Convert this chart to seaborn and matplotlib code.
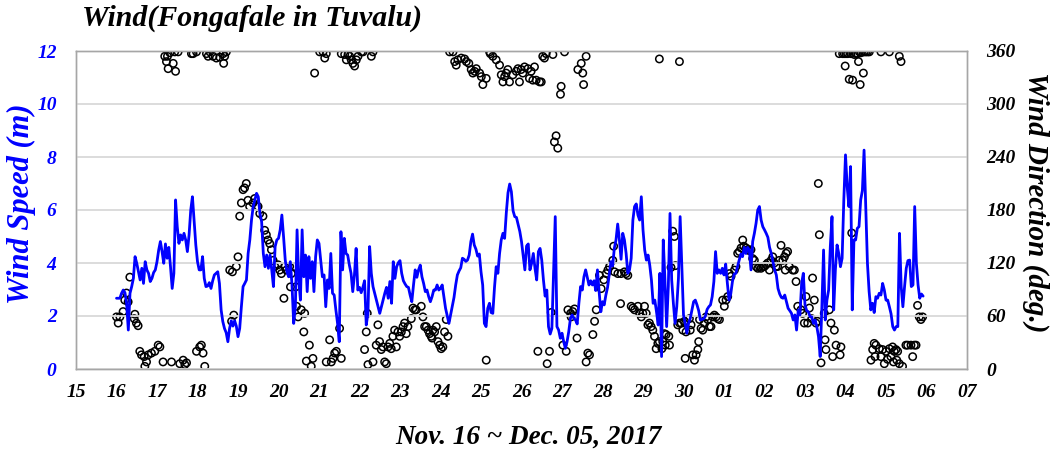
import numpy as np
import matplotlib
matplotlib.use("Agg")
import matplotlib.pyplot as plt
import seaborn as sns

# Hourly wind speed (m/s) from Nov 16 00:00
wind_speed = [
    2.67, 2.67, 2.67, 2.86, 2.98, 2.88, 2.48, 1.47, 2.86, 3.11,
    3.42, 4.24, 3.99, 3.67, 3.36, 3.80, 3.23, 4.05, 3.74, 3.61,
    3.30, 3.42, 3.64, 3.74, 4.05, 4.49, 4.81, 4.43, 3.99, 4.72,
    4.18, 4.59, 3.86, 3.04, 3.61, 6.38, 5.37, 4.74, 5.06, 4.87,
    5.12, 4.87, 4.43, 5.06, 6.00, 6.50, 5.56, 4.68, 4.05, 3.74,
    3.74, 4.24, 3.42, 3.11, 3.13, 3.26, 3.04, 3.33, 3.55,
    3.61, 3.67, 3.23, 2.23, 1.79, 1.53, 1.37, 1.03, 1.53, 1.82,
    1.62, 1.82, 1.62, 1.22, 1.53, 2.35, 3.11, 3.23, 3.36, 4.36,
    4.87, 5.62, 6.13, 6.38, 6.63, 6.50, 5.87, 5.56, 4.36, 3.86,
    4.30, 3.80, 4.30, 3.74, 3.11, 4.62, 4.87, 4.93, 5.25, 5.81,
    4.99, 4.11, 3.67, 3.48, 4.05, 3.17, 1.72, 2.35, 5.25, 3.36,
    2.60, 5.25, 3.48, 4.30, 2.92, 4.24, 3.42, 4.05, 2.92, 4.24, 4.87, 4.74,
    4.11, 3.48, 3.55, 2.35, 3.36, 3.04, 4.36, 2.86, 2.79, 2.23,
    1.72, 1.03, 5.18, 3.74, 4.93, 4.36, 4.30, 3.92, 3.61, 2.92,
    3.55, 4.55, 2.98, 3.08, 2.88, 3.08, 3.33, 1.66, 2.10, 4.62,
    3.61, 3.11, 2.86, 2.60, 2.35, 2.10, 2.35, 2.60, 2.86, 3.08,
    2.67, 3.30, 2.48, 4.05, 3.42, 3.86, 4.01, 4.09, 3.61, 3.33,
    3.21, 3.11, 3.08, 2.79, 2.54, 3.17, 3.74, 3.46, 3.74, 3.92, 3.48, 3.23,
    2.92, 2.98, 2.73, 2.54, 2.73, 2.98, 2.98, 3.17, 2.98, 3.04,
    3.17, 2.73, 2.29, 2.00, 1.72, 2.04, 2.35, 2.70, 3.17, 3.55,
    3.70, 3.82, 4.18, 4.14, 4.06, 4.11, 4.30, 4.81, 5.09, 4.68,
    4.52, 4.26, 4.34, 3.67, 3.17, 1.72, 1.60, 2.29, 2.48, 2.13,
    2.10, 3.08, 3.86, 3.61, 4.36, 4.87, 5.12, 4.93, 5.90, 6.65,
    6.98, 6.69, 5.97, 5.75, 5.72, 5.46, 5.19, 4.81, 4.26, 3.74, 4.64, 4.72,
    3.74, 3.99, 4.36, 3.80, 3.36, 4.43, 4.55, 4.11, 3.36, 2.75,
    2.98, 1.60, 1.32, 1.53, 3.61, 5.75, 1.60, 1.47, 1.16, 1.35,
    1.03, 0.78, 1.03, 1.41, 1.91, 2.04, 1.91, 1.85, 1.70, 2.48,
    3.11, 2.98, 3.48, 3.74, 3.46, 3.17, 3.33, 3.17, 3.33, 2.96,
    3.74, 2.92, 2.16, 2.54, 2.42, 2.79, 3.08, 3.55, 4.05, 3.89,
    4.55, 4.87, 5.47, 4.89, 4.14, 5.12, 4.87, 4.36, 3.61, 3.74, 4.18, 5.62,
    6.13, 6.23, 5.81, 5.62, 6.50, 5.25, 4.49, 4.11, 4.30, 3.92,
    3.36, 2.48, 2.60, 2.16, 1.66, 3.61, 0.47, 4.87, 3.36, 1.60,
    3.11, 5.87, 3.36, 2.48, 1.72, 2.35, 3.42, 5.75, 3.86, 2.04,
    1.72, 1.35, 1.72, 1.91, 2.23, 2.54, 2.60, 2.42, 2.20, 1.85,
    1.87, 1.90, 2.00, 2.25, 2.35, 2.42, 2.73, 3.30, 4.43, 3.61,
    3.74, 3.61, 3.80, 3.55, 3.96, 3.23, 2.60, 2.83, 3.30, 3.58, 3.61, 3.86,
    4.11, 4.34, 4.24, 4.59, 4.36, 4.59, 4.49, 3.74, 4.81, 5.12,
    5.50, 6.00, 6.13, 5.62, 5.37, 5.25, 5.12, 4.97, 4.59, 4.36,
    4.05, 3.74, 3.55, 3.04, 2.83, 2.70, 2.67, 2.79, 2.54, 2.29,
    2.20, 2.10, 1.85, 2.04, 1.47, 2.23, 2.04, 3.23, 3.61, 2.42,
    2.20, 2.16, 1.97, 1.97, 1.72, 1.85, 1.60, 1.22, 0.47, 2.35,
    4.49, 1.85, 2.60, 2.98, 4.62, 5.75, 2.23, 3.74, 4.68, 4.36, 3.86, 4.18,
    6.38, 8.08, 6.88, 6.13, 7.64, 2.23, 4.87, 4.87, 5.31, 5.37,
    6.38, 6.73, 8.26, 6.13, 3.99, 2.92, 2.23, 2.48, 2.13, 2.73,
    2.67, 2.86, 2.79, 3.23, 2.98, 2.60, 2.60, 2.35, 2.08, 1.60,
    1.47, 1.60, 1.60, 5.12, 3.11, 2.35, 3.11, 3.80, 4.09, 4.11,
    3.11, 3.17, 6.13, 3.99, 3.17, 2.67, 2.83, 2.75,
]

# Wind direction observations: hours after Nov 16 00:00 and direction (deg.)
dir_obs = [
    (28.6, 354), (31.6, 358), (34.5, 359), (36.5, 359), (29.6, 348), (30.6, 340),
    (33.6, 346), (35.0, 337), (30.2, 354), (44.4, 357), (45.4, 357), (47.4, 359),
    (53.3, 357), (54.3, 354),
    (7.9, 104), (5.9, 86), (4.9, 78), (6.9, 76), (3.9, 65), (2.0, 59), (0.0, 59),
    (1.0, 52), (10.9, 62), (10.5, 57), (11.8, 52), (12.8, 49),
    (13.8, 20), (14.8, 16), (16.4, 14), (17.8, 8), (18.8, 16), (20.7, 18), (22.7, 20),
    (24.7, 27), (25.7, 25), (16.8, 3), (27.6, 8), (32.6, 8), (37.5, 6), (39.5, 10),
    (40.5, 5), (41.5, 7), (47.4, 20), (49.3, 25), (50.3, 27), (51.3, 18), (52.3, 3),
    (55.3, 359), (57.2, 354), (59.2, 352), (61.2, 353), (63.2, 357), (64.1, 354),
    (65.1, 359), (63.5, 346),
    (75.0, 203), (75.9, 205), (76.9, 210), (74.0, 188), (73.0, 173), (77.9, 191),
    (78.9, 184), (80.9, 188), (81.9, 193), (82.9, 184), (83.9, 184), (84.9, 176),
    (86.8, 173), (87.8, 157), (88.8, 152), (89.8, 146), (90.8, 142), (91.8, 135),
    (92.8, 123), (93.8, 116), (95.7, 118), (96.7, 112), (97.7, 108), (99.7, 116),
    (100.7, 112), (102.6, 116), (103.6, 108), (105.6, 116), (103.1, 93), (106.2, 93),
    (99.2, 80), (72.0, 127), (71.0, 116), (67.1, 112), (68.7, 110), (69.5, 61),
    (68.2, 54), (106.7, 71), (107.6, 59), (109.5, 67), (111.5, 63), (111.0, 42),
    (114.3, 27), (112.5, 9), (116.4, 12), (115.4, 3),
    (120.4, 359), (122.4, 359), (123.4, 352), (124.3, 357), (133.2, 357), (135.2, 356),
    (136.2, 350), (137.2, 356), (138.2, 354), (139.1, 350), (140.1, 346), (141.1, 343),
    (142.1, 350), (143.1, 354), (145.1, 359), (146.1, 359), (151.0, 354), (152.0, 359),
    (117.4, 335),
    (126.3, 33), (129.3, 18), (130.3, 20), (128.3, 12), (127.3, 8), (124.3, 8),
    (133.2, 12), (132.2, 46), (148.0, 42), (148.6, 63), (147.0, 22), (149.0, 5),
    (152.0, 8), (154.9, 50), (153.9, 27), (155.9, 31), (156.9, 22), (157.9, 25),
    (158.9, 8), (159.9, 6), (160.9, 25), (161.9, 29), (162.8, 23), (163.8, 37),
    (164.8, 44), (165.8, 25), (166.8, 42), (167.8, 37), (168.8, 42), (169.8, 48),
    (170.7, 52), (171.7, 40), (172.7, 48), (174.7, 57), (175.7, 69), (176.7, 67),
    (177.6, 67),
    (197.4, 359), (199.4, 359), (200.4, 348), (201.3, 344), (202.3, 350), (204.3, 352),
    (206.3, 351), (207.3, 348), (208.8, 346), (210.2, 339), (211.2, 335), (212.2, 337),
    (213.2, 340), (215.2, 335), (216.2, 331), (217.1, 322), (219.1, 329), (221.1, 359),
    (221.5, 357), (223.0, 354), (225.0, 350), (227.0, 344), (228.0, 333), (229.0, 325),
    (230.0, 331), (230.9, 335), (231.9, 339), (232.9, 325), (234.9, 333), (236.9, 337),
    (237.9, 340), (238.8, 325), (239.8, 339), (240.8, 335), (241.8, 342),
    (180.6, 71), (181.6, 59), (182.6, 48), (183.6, 48), (184.6, 44), (185.5, 40),
    (186.5, 37), (187.5, 44), (188.5, 42), (189.5, 48), (187.0, 35), (190.5, 31),
    (191.5, 27), (192.4, 23), (193.4, 25), (194.4, 42), (195.4, 56), (196.4, 37),
    (219.1, 10),
    (243.8, 340), (245.7, 337), (247.7, 342), (244.7, 329), (246.7, 327), (248.7, 327),
    (250.7, 325), (251.7, 325), (252.6, 354), (253.6, 352), (254.6, 357), (258.6, 356),
    (265.5, 359), (273.4, 339), (275.4, 346), (276.3, 335), (278.3, 354), (276.8, 322),
    (263.5, 320), (263.1, 311),
    (260.5, 264), (259.5, 257), (261.5, 250),
    (257.6, 64), (267.5, 67), (269.1, 63), (270.4, 65), (271.4, 68), (269.4, 59),
    (272.9, 35), (283.3, 54), (282.3, 39), (284.3, 67), (287.2, 91), (288.8, 101),
    (286.2, 106), (290.2, 108), (291.2, 112), (292.2, 116), (294.1, 123), (294.6, 139),
    (295.1, 110), (297.1, 108), (299.0, 108), (301.0, 110), (302.0, 108), (303.0, 106),
    (298.7, 74), (249.7, 20), (256.6, 20), (255.2, 6), (264.5, 27), (266.5, 20),
    (279.3, 18), (280.3, 16), (278.3, 8),
    (321.7, 351), (333.6, 348),
    (329.6, 156), (330.6, 150), (328.6, 115), (331.2, 117), (363.2, 108), (364.2, 105),
    (305.0, 71), (306.0, 69), (307.0, 67), (309.0, 71), (310.0, 63), (311.0, 59),
    (311.9, 63), (312.9, 71), (313.9, 63), (314.9, 50), (315.8, 52), (316.8, 48),
    (317.8, 44), (318.8, 37), (319.8, 23), (320.8, 29), (321.7, 31), (323.7, 31),
    (324.7, 40), (325.7, 39), (327.3, 37), (325.2, 27), (327.7, 27), (323.2, 23),
    (332.6, 50), (333.6, 52), (334.6, 52), (335.6, 44), (336.6, 54), (337.5, 42),
    (339.5, 57), (340.5, 50), (340.0, 44), (345.5, 56), (346.4, 46), (347.4, 44),
    (348.4, 52), (349.4, 59), (350.4, 56), (351.4, 48), (352.3, 48), (353.3, 59),
    (354.3, 61), (355.3, 59), (356.3, 57), (357.3, 56), (359.2, 78), (360.2, 71),
    (361.2, 78), (362.2, 82), (337.0, 12), (341.5, 16), (342.5, 10), (343.5, 16),
    (344.5, 22), (345.0, 31),
    (366.2, 112), (367.1, 116), (368.1, 131), (369.1, 133), (370.1, 137), (371.1, 146),
    (371.7, 139), (373.1, 137), (374.0, 135), (375.0, 134), (376.0, 135), (377.0, 125),
    (378.0, 123), (379.0, 116), (380.0, 114), (381.0, 116), (381.9, 114), (382.9, 116),
    (383.9, 116), (384.9, 118), (385.9, 120), (386.9, 112), (387.9, 123), (388.9, 127),
    (389.8, 120), (390.8, 116), (391.8, 116), (392.8, 123), (393.8, 140), (394.8, 123),
    (395.8, 127), (396.8, 131), (397.7, 133), (396.3, 112), (398.7, 116), (400.7, 112),
    (401.7, 112), (402.7, 99), (412.5, 103), (415.9, 210), (416.5, 152), (408.6, 82),
    (413.5, 78), (403.7, 71), (405.6, 67), (406.6, 63), (407.6, 52), (409.6, 52),
    (410.6, 69), (412.0, 57), (414.5, 52), (415.4, 54), (419.4, 63), (422.4, 67),
    (423.4, 52), (425.4, 44), (419.9, 33), (420.4, 22), (417.5, 7), (424.4, 14),
    (426.4, 27),
    (428.3, 357), (430.3, 357), (431.3, 357), (432.3, 357), (433.3, 357), (435.2, 357),
    (437.2, 356), (438.2, 357), (439.2, 357), (440.2, 359), (441.2, 358), (443.1, 359),
    (444.1, 359), (445.1, 359), (446.1, 359), (453.0, 359), (458.0, 359), (463.9, 354),
    (464.9, 348), (431.8, 343), (439.7, 348), (442.6, 335), (434.2, 328), (436.2, 327),
    (440.7, 322),
    (435.7, 154),
    (474.7, 72), (475.7, 59), (476.7, 56), (477.7, 59), (429.3, 25), (428.8, 16),
    (449.0, 29), (450.0, 27), (448.1, 22), (452.0, 23), (454.0, 22), (456.0, 20),
    (458.0, 23), (459.9, 25), (460.9, 20), (461.9, 22), (462.9, 20), (447.1, 10),
    (449.5, 14), (453.0, 14), (455.0, 6), (456.9, 11), (458.9, 14), (460.4, 8),
    (462.4, 10), (463.9, 6), (465.8, 3), (467.8, 27), (468.8, 27), (470.8, 27),
    (472.8, 27), (473.8, 27), (471.8, 14),
]
dir_hours = [h for h, _ in dir_obs]
dir_degrees = [d for _, d in dir_obs]

day_ticks = list(range(15, 38))
day_labels = ["15", "16", "17", "18", "19", "20", "21", "22", "23", "24", "25", "26",
              "27", "28", "29", "30", "01", "02", "03", "04", "05", "06", "07"]
speed_ticks = [0, 2, 4, 6, 8, 10, 12]
dir_ticks = [0, 60, 120, 180, 240, 300, 360]

sns.set_theme(style="white")
plt.rcParams["font.family"] = ["Liberation Serif", "DejaVu Serif"]
plt.rcParams["font.weight"] = "bold"
plt.rcParams["font.style"] = "italic"

BLUE = "#0000ff"
SPINE = "#a6a6a6"

fig = plt.figure(figsize=(10.51, 4.49), dpi=100)
ax = fig.add_axes([76 / 1051, 1 - 369 / 449, 891 / 1051, 318 / 449])
ax2 = ax.twinx()

speed_x = 16 + np.arange(len(wind_speed)) / 24.0
dir_x = 16 + np.asarray(dir_hours) / 24.0

for y in speed_ticks:
    ax.axhline(y, color="#d9d9d9", lw=1.3, zorder=0)

sns.lineplot(x=speed_x, y=wind_speed, ax=ax, color=BLUE, linewidth=2.0, zorder=3)
sns.scatterplot(x=dir_x, y=dir_degrees, ax=ax2, marker="o", s=28,
                facecolor="none", edgecolor="black", linewidth=1.1, zorder=4)

ax.set_xlim(15, 37)
ax.set_ylim(0, 12)
ax2.set_ylim(0, 360)

ax.set_xticks(day_ticks)
ax.set_xticklabels(day_labels)
ax.set_yticks(speed_ticks)
ax.set_yticklabels([str(v) for v in speed_ticks])
ax2.set_yticks(dir_ticks)
ax2.set_yticklabels([str(v) for v in dir_ticks])

ax.tick_params(axis="x", direction="in", length=5, width=1, color=SPINE,
               labelsize=14, pad=11, labelcolor="black")
ax.tick_params(axis="y", length=0, labelsize=14, pad=14, labelcolor=BLUE)
ax2.tick_params(axis="y", length=0, labelsize=14, pad=14, labelcolor="black")
ax.grid(False)
ax2.grid(False)

for a in (ax, ax2):
    for s in a.spines.values():
        s.set_color(SPINE)
        s.set_linewidth(1.0)
    a.set_xlabel("")
    a.set_ylabel("")

ax.set_zorder(ax2.get_zorder() + 1)
ax.patch.set_visible(False)

fig.text(82 / 1051, 1 - 18 / 449, "Wind(Fongafale in Tuvalu)", ha="left", va="center",
         fontsize=21.5, color="black")
fig.text(21 / 1051, 1 - 204 / 449, "Wind Speed (m)", rotation=90, ha="center",
         va="center", fontsize=22, color=BLUE)
fig.text(1036 / 1051, 1 - 202 / 449, "Wind Direction (deg.)", rotation=270,
         ha="center", va="center", fontsize=21, color="black")
fig.text(528 / 1051, 1 - 437 / 449, "Nov. 16 ~ Dec. 05, 2017", ha="center",
         va="center", fontsize=19.5, color="black")

fig.savefig("out.png", dpi=100, facecolor="white")
